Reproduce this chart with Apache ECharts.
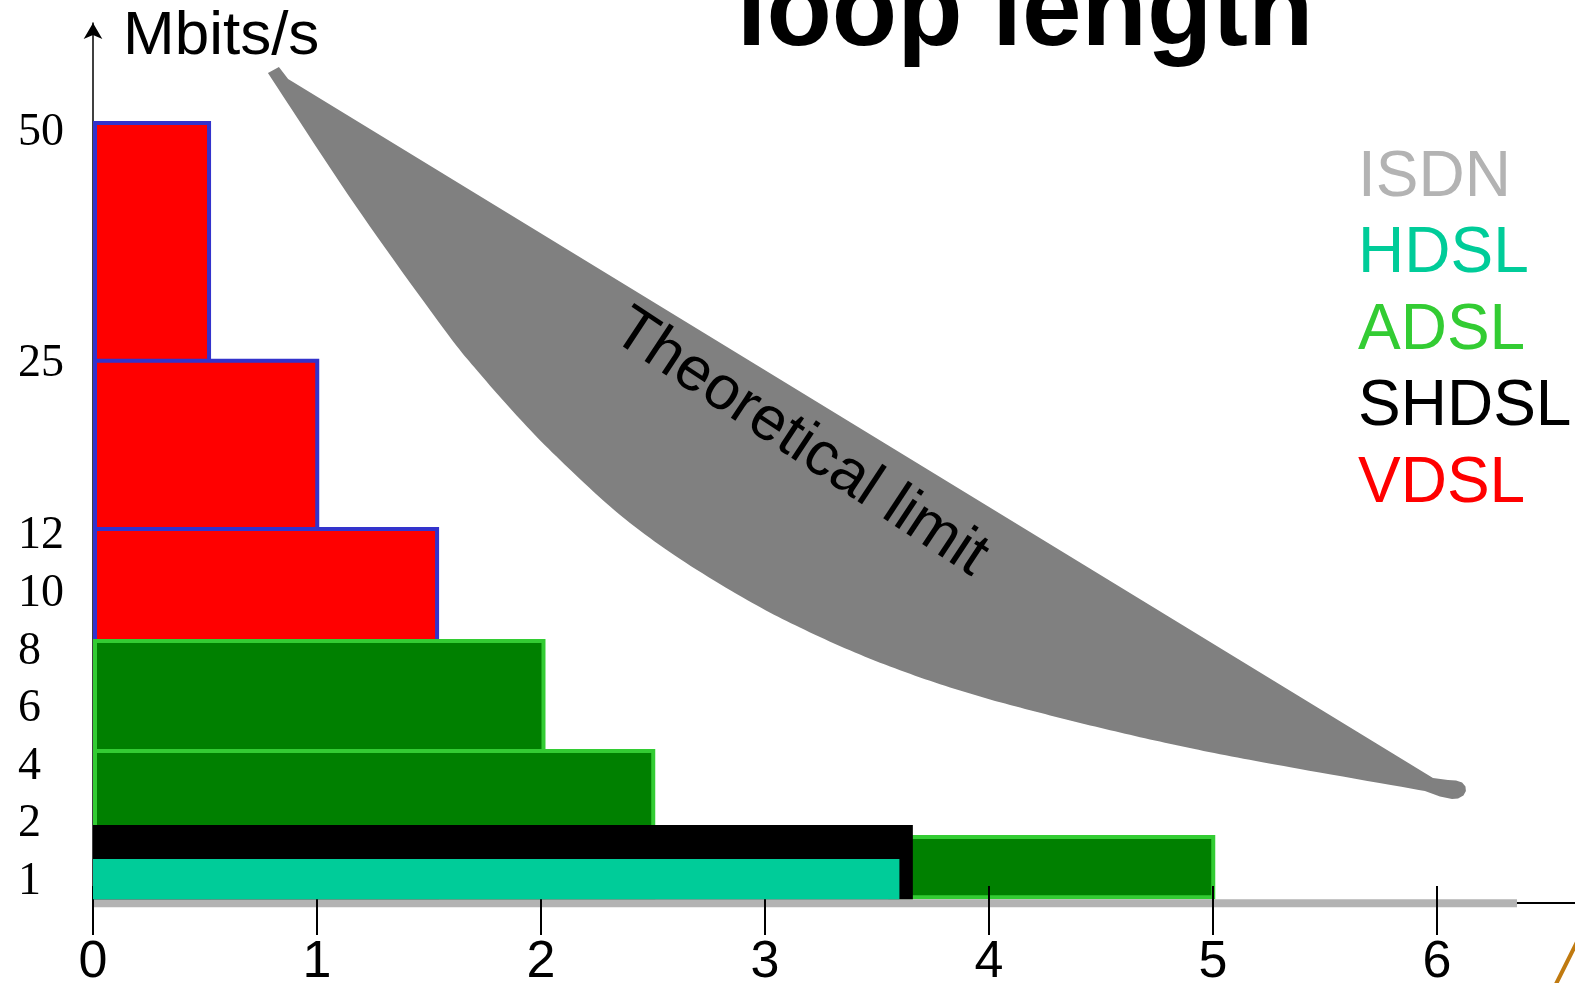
<!DOCTYPE html>
<html>
<head>
<meta charset="utf-8">
<script src="https://cdn.jsdelivr.net/npm/echarts@6/dist/echarts.min.js"></script>
<style>
  html, body { margin: 0; padding: 0; background: #fff; }
  #chart { width: 1575px; height: 983px; }
</style>
</head>
<body>
<div id="chart"></div>
<script>
// Rate axis is a ladder, not a linear scale: each labelled rate has its own rung.
const rateLabels = ['1', '2', '4', '6', '8', '10', '12', '25', '50'];
const ratePos = [0, 1, 2, 3, 4, 5, 6, 9, 13];
// Loop length ticks (km)
const kmTicks = [0, 1, 2, 3, 4, 5, 6];

// Floor of the rate ladder (where the reach bars start)
const floorPos = -0.35;

// Reach bands: [from km, to km, top rung, bottom rung]
const vdslBands = [[0, 0.527, 13.16, floorPos], [0, 1.01, 9.03, floorPos], [0, 1.545, 6.11, floorPos]];
const adslBands = [[0, 2.02, 4.167, floorPos], [0, 2.51, 2.257, floorPos], [3.55, 5.01, 0.764, floorPos]];
const shdslBands = [[0, 3.66, 0.937, floorPos]];
const hdslBands = [[0, 3.60, 0.347, floorPos]];
const isdnBands = [[0, 6.357, floorPos, -0.49]];

// Theoretical-limit region: straight upper edge (with the rounded far tip) ...
const limitUpperKm = [0.781, 0.830, 0.871, 5.982, 6.049, 6.085, 6.112, 6.127, 6.129, 6.118, 6.094, 6.067, 6.013];
const limitUpperPos = [13.993, 14.097, 13.889, 1.753, 1.719, 1.710, 1.675, 1.606, 1.528, 1.450, 1.398, 1.389, 1.432];
// ... and curved lower edge, running back from the far tip
const limitLowerKm = [5.946, 5.388, 5.031, 4.763, 4.496, 4.228, 3.960, 3.692, 3.424, 3.156,
  2.920, 2.621, 2.353, 2.085, 1.906, 1.728, 1.563, 1.170, 0.781];
const limitLowerPos = [1.528, 1.910, 2.167, 2.385, 2.625, 2.885, 3.167, 3.500, 3.896, 4.365,
  4.844, 5.556, 6.319, 7.274, 7.986, 8.767, 9.566, 11.701, 13.993];

const techNames = ['ISDN', 'HDSL', 'ADSL', 'SHDSL', 'VDSL'];
const techColors = ['#b3b3b3', '#00cc99', '#33cc33', '#000000', '#ff0000'];

const xMax = 6.616;
const yMin = -0.41667;
const yMax = 14.861;

function bandSeries(name, bands, fill, stroke, z) {
  return {
    type: 'custom',
    name: name,
    z: z,
    color: fill,
    data: bands,
    encode: { x: [0, 1], y: [2, 3] },
    renderItem: function (params, api) {
      const p0 = api.coord([api.value(0), api.value(2)]);
      const p1 = api.coord([api.value(1), api.value(3)]);
      const half = stroke ? 2 : 0;
      return {
        type: 'rect',
        shape: {
          x: p0[0] + half,
          y: p0[1] + half,
          width: p1[0] - p0[0] - 2 * half,
          height: p1[1] - p0[1] - 2 * half
        },
        style: { fill: fill, stroke: stroke || null, lineWidth: stroke ? 4 : 0 }
      };
    }
  };
}

// Catmull-Rom smoothing of a pixel polyline (rendering only)
function smoothPoints(pts, steps) {
  const out = [];
  const n = pts.length;
  for (let i = 0; i < n - 1; i++) {
    const p0 = pts[Math.max(i - 1, 0)], p1 = pts[i], p2 = pts[i + 1], p3 = pts[Math.min(i + 2, n - 1)];
    for (let s = 0; s < steps; s++) {
      const t = s / steps, t2 = t * t, t3 = t2 * t;
      const f = function (a, b, c, d) {
        return 0.5 * (2 * b + (-a + c) * t + (2 * a - 5 * b + 4 * c - d) * t2 + (-a + 3 * b - 3 * c + d) * t3);
      };
      out.push([f(p0[0], p1[0], p2[0], p3[0]), f(p0[1], p1[1], p2[1], p3[1])]);
    }
  }
  out.push(pts[n - 1]);
  return out;
}

const chart = echarts.init(document.getElementById('chart'), null, { renderer: 'canvas' });

const option = {
  animation: false,
  backgroundColor: '#ffffff',
  grid: { left: 93, right: 0, top: 23, bottom: 80, containLabel: false, outerBoundsMode: 'none' },
  legend: {
    orient: 'vertical',
    left: 1353,
    top: 146,
    padding: 0,
    itemGap: 12.5,
    itemWidth: 0,
    itemHeight: 64,
    icon: 'none',
    selectedMode: false,
    textStyle: { fontFamily: 'Liberation Sans', fontSize: 64, lineHeight: 64 },
    data: techNames.map(function (n, i) {
      return { name: n, textStyle: { color: techColors[i] } };
    })
  },
  xAxis: [
    {
      type: 'value', min: 0, max: xMax, z: 1,
      axisLine: { show: true, onZero: false, lineStyle: { color: '#000', width: 2 } },
      axisTick: { show: false },
      splitLine: { show: false },
      axisLabel: {
        customValues: kmTicks, margin: 34, fontSize: 52, color: '#000',
        fontFamily: 'Liberation Sans',
        formatter: function (v) { return String(v); }
      }
    },
    {
      type: 'value', min: 0, max: xMax, position: 'bottom', offset: 32, z: 3,
      axisLine: { show: false, onZero: false },
      axisLabel: { show: false },
      splitLine: { show: false },
      axisTick: { show: true, inside: true, length: 49, customValues: kmTicks,
        lineStyle: { color: '#000', width: 2 } }
    }
  ],
  yAxis: {
    type: 'value', min: yMin, max: yMax,
    axisLine: { show: true, onZero: false, symbol: ['none', 'arrow'], symbolSize: [14, 16],
      lineStyle: { color: '#000', width: 1.5 } },
    axisTick: { show: false },
    splitLine: { show: false },
    axisLabel: {
      customValues: ratePos, align: 'left', margin: 75,
      verticalAlign: 'top', lineHeight: 6,
      fontFamily: 'Liberation Serif', fontSize: 46, color: '#000',
      formatter: function (v) { return rateLabels[ratePos.indexOf(v)]; }
    }
  },
  series: [
    {
      type: 'custom',
      name: 'Theoretical limit',
      z: 2,
      data: [[limitUpperKm[0], limitUpperPos[0]]],
      renderItem: function (params, api) {
        const upper = limitUpperKm.map(function (k, i) { return api.coord([k, limitUpperPos[i]]); });
        const lower = limitLowerKm.map(function (k, i) { return api.coord([k, limitLowerPos[i]]); });
        const pts = upper.concat(smoothPoints(lower, 12));
        return { type: 'polygon', shape: { points: pts }, style: { fill: '#808080' } };
      }
    },
    bandSeries('VDSL', vdslBands, '#ff0000', '#3333cc', 2),
    bandSeries('ADSL', adslBands, '#008000', '#33cc33', 2),
    bandSeries('ISDN', isdnBands, '#b3b3b3', null, 2),
    bandSeries('SHDSL', shdslBands, '#000000', null, 4),
    bandSeries('HDSL', hdslBands, '#00cc99', null, 4)
  ],
  graphic: [
    {
      type: 'text', x: 1025, y: 15, z: 100,
      style: { text: 'loop length', font: 'bold 107px "Liberation Sans"', fill: '#000',
        align: 'center', verticalAlign: 'middle', textAlign: 'center', textVerticalAlign: 'middle' }
    },
    {
      type: 'text', x: 123, y: 37, z: 100,
      style: { text: 'Mbits/s', font: '62px "Liberation Sans"', fill: '#000',
        align: 'left', verticalAlign: 'middle', textAlign: 'left', textVerticalAlign: 'middle' }
    },
    {
      type: 'text', x: 800, y: 443, z: 100, rotation: -33.4 * Math.PI / 180,
      style: { text: 'Theoretical limit', font: '62px "Liberation Sans"', fill: '#000',
        align: 'center', verticalAlign: 'middle', textAlign: 'center', textVerticalAlign: 'middle' }
    },
    {
      type: 'line', z: 100,
      shape: { x1: 1555, y1: 986, x2: 1578, y2: 940 },
      style: { stroke: '#c07a10', lineWidth: 4 }
    }
  ]
};

chart.setOption(option);
</script>
</body>
</html>
